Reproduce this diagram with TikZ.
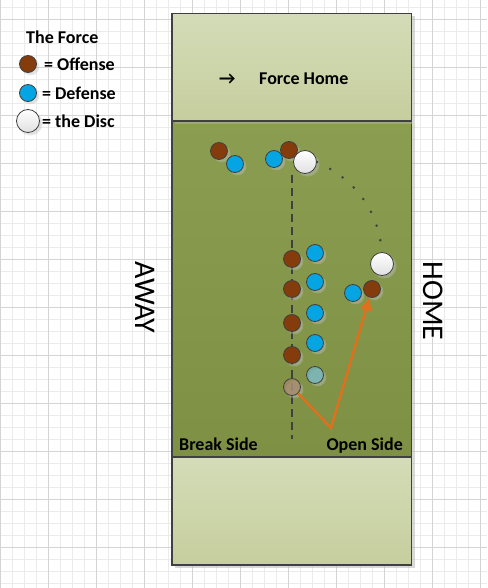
\documentclass[tikz,border=0pt]{standalone}
\usepackage{fontspec}
\setsansfont{Carlito}
\usetikzlibrary{arrows.meta,positioning,shadows}
\definecolor{lineGray}{HTML}{404040}
\definecolor{offenseBrown}{HTML}{843C0C}
\definecolor{defenseBlue}{HTML}{05A4E2}
\definecolor{fadedBrown}{HTML}{AA866C}
\definecolor{fadedBlue}{HTML}{71B9C8}
\definecolor{fieldTop}{HTML}{8B9D51}
\definecolor{fieldBottom}{HTML}{7E9044}
\definecolor{zoneTop}{HTML}{D4DCB8}
\definecolor{zoneBottom}{HTML}{C6CE9E}
\definecolor{cutOrange}{HTML}{DE701E}
\tikzset{
    every node/.style={font=\sffamily\bfseries\fontsize{18}{21}\selectfont,inner sep=0pt},
    minor grid/.style={draw=black!8,line width=0.7pt},
    major grid/.style={draw=black!17,line width=0.7pt},
    box shadow/.style={drop shadow={shadow xshift=3pt,shadow yshift=-3pt,fill=black!30,opacity=0.5}},
    field/.style={draw=lineGray,line width=1.2pt,top color=fieldTop,bottom color=fieldBottom,box shadow},
    endzone/.style={draw=lineGray,line width=1.2pt,top color=zoneTop,bottom color=zoneBottom,box shadow},
    player/.style={circle,draw=lineGray,line width=0.8pt,minimum size=17pt,
        circular drop shadow={shadow xshift=2pt,shadow yshift=-2pt,fill=black!25,opacity=0.45}},
    offense/.style={player,fill=offenseBrown},
    defense/.style={player,fill=defenseBlue},
    faded offense/.style={player,fill=fadedBrown,fill opacity=0.7},
    faded defense/.style={player,fill=fadedBlue,fill opacity=0.7},
    disc/.style={player,minimum size=23pt,top color=white,bottom color=black!12},
    side label/.style={font=\sffamily\fontsize{30}{36}\selectfont,rotate=-90},
    stack line/.style={draw=lineGray,line width=1.2pt,dash pattern=on 8pt off 5pt},
    throw path/.style={draw=black!75,line width=2.8pt,line cap=round,dash pattern=on 0pt off 15pt},
    cut arrow/.style={draw=cutOrange,line width=2.5pt,-{Triangle[length=13pt,width=11pt]}}
}
\begin{document}
\begin{tikzpicture}[x=1pt,y=-1pt,node distance=6pt]
    \useasboundingbox (0,0) rectangle (487,588);

    % background grid
    \foreach \k in {0,12,...,480} \draw[minor grid] (\k+0.5,0) -- (\k+0.5,588);
    \foreach \k in {7,19,...,583} \draw[minor grid] (0,\k+0.3) -- (487,\k+0.3);
    \foreach \k in {0,48,...,480} \draw[major grid] (\k+0.5,0) -- (\k+0.5,588);
    \foreach \k in {19,67,...,547} \draw[major grid] (0,\k+0.3) -- (487,\k+0.3);

    % field and end zones
    \path[field] (172,121) rectangle (411.5,457);
    \path[endzone] (172,13.3) rectangle (411.5,121);
    \path[endzone] (172,457) rectangle (411.5,565);

    % legend
    \node[anchor=base west] (legend title) at (26,43.3) {The Force};
    \node[offense] (key offense) at (28,64) {};
    \node[right=7pt of key offense] (key offense text) {= Offense};
    \node[defense] (key defense) at (28,93) {};
    \node[right=5pt of key defense] (key defense text) {= Defense};
    \node[disc] (key disc) at (28,121) {};
    \node[right=2pt of key disc] (key disc text) {= the Disc};

    % labels
    \node[anchor=base west] (force arrow) at (219,84.3) {→};
    \node[anchor=base west] (force home) at (259,84.3) {Force Home};
    \node[anchor=base west] (break side) at (179,450) {Break Side};
    \node[anchor=base east] (open side) at (403,450) {Open Side};
    \node[side label] (away) at (145.5,297.5) {AWAY};
    \node[side label] (home) at (433,301) {HOME};

    % stack
    \coordinate (stack top) at (292,175);
    \coordinate (stack end) at (292,439);
    \draw[stack line] (stack top) -- (stack end);

    % players
    \node[offense] (o1) at (219,151) {};
    \node[defense] (d1) at (235,164) {};
    \node[defense] (d2) at (274,159) {};
    \node[offense] (o2) at (289,150) {};
    \foreach \y [count=\i from 3] in {259,289,323,355} \node[offense] (o\i) at (292,\y) {};
    \foreach \y [count=\i from 3] in {253,282,313,343} \node[defense] (d\i) at (315,\y) {};
    \node[faded offense] (o7) at (292,387) {};
    \node[faded defense] (d7) at (315,375) {};
    \node[defense] (d8) at (353,293) {};
    \node[offense] (o8) at (372,289) {};

    % discs and throw
    \node[disc] (disc1) at (305,162) {};
    \node[disc] (disc2) at (382,264) {};
    \draw[throw path] (disc1.east) .. controls (356,180) and (378,210) .. (disc2.north);

    % cut
    \coordinate (cut turn) at (331,428);
    \draw[cut arrow] (o7) -- (cut turn) -- (o8);
\end{tikzpicture}
\end{document}
